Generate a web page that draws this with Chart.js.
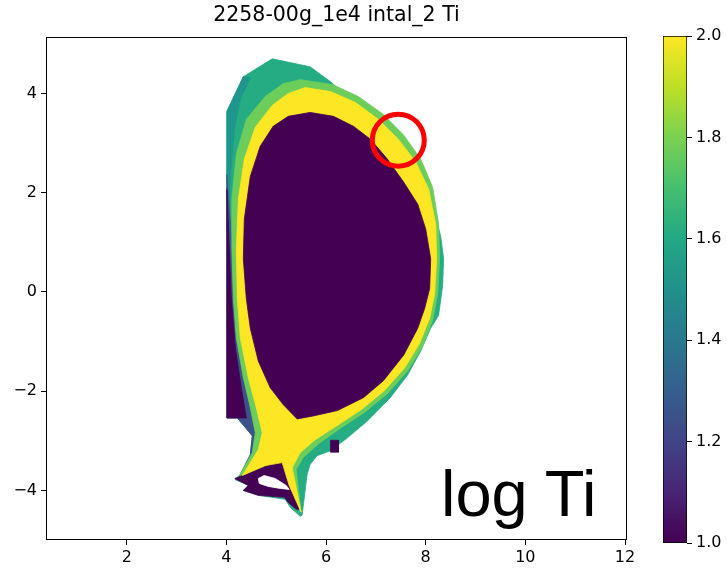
<!DOCTYPE html>
<html>
<head>
<meta charset="utf-8">
<script src="https://cdn.jsdelivr.net/npm/chart.js@4.4.1/dist/chart.umd.min.js"></script>
<style>
  html, body { margin: 0; padding: 0; background: #fff; }
  #wrap { position: relative; width: 727px; height: 571px; overflow: hidden; }
  #main { position: absolute; left: 0; top: 0; }
  #cbar { position: absolute; left: 630px; top: 0; }
  #note { position: absolute; left: 441px; top: 461px; font-family: 'Liberation Sans', Arial, sans-serif;
          font-size: 65px; line-height: 1; color: #000; white-space: nowrap; }
</style>
</head>
<body>
<div id="wrap">
  <canvas id="main" width="660" height="571"></canvas>
  <canvas id="cbar" width="97" height="571"></canvas>
  <div id="note">log Ti</div>
</div>
<script>
const titleText = '2258-00g_1e4 intal_2 Ti';
const xTicks = [2, 4, 6, 8, 10, 12];
const yTicks = [-4, -2, 0, 2, 4];
const xRange = [0.38, 12.04];
const yRange = [-5.0, 5.14];
const cbTicks = [1.0, 1.2, 1.4, 1.6, 1.8, 2.0];
const cbRange = [1.0, 2.0];

// viridis colormap stops (0 .. 1)
const viridis = ['#440154', '#482475', '#414487', '#355f8d', '#2a788e', '#21918c',
                 '#22a884', '#44bf70', '#7ad151', '#bddf26', '#fde725'];

// region outlines (R, Z)
const outerPts = [[4.92, 4.70], [5.68, 4.54], [6.09, 4.24], [6.49, 3.88], [7.09, 3.34], [7.64, 2.82],
  [7.96, 2.33], [8.10, 1.87], [8.30, 1.13], [8.36, 0.67], [8.34, 0.13], [8.26, -0.47], [8.10, -0.73],
  [7.90, -1.19], [7.64, -1.67], [7.29, -2.13], [6.83, -2.60], [6.43, -2.94], [6.09, -3.20], [5.82, -3.30],
  [5.68, -3.48], [5.62, -3.68], [5.52, -4.50], [5.48, -4.52], [5.28, -4.34], [5.18, -4.18], [4.64, -4.10],
  [4.34, -4.00], [4.44, -3.90], [4.17, -3.78], [4.28, -3.68], [4.48, -3.28], [4.52, -2.90], [4.22, -2.54],
  [4.01, -2.54], [4.01, 3.64], [4.34, 4.34]];

const edgePts = [[4.34, 4.34], [4.48, 4.32], [4.28, 3.88], [4.16, 3.28], [4.09, 2.47], [4.05, 1.27],
  [4.01, 1.27], [4.01, 3.64]];

const bluePts = [[4.01, 2.37], [4.09, 1.27], [4.16, -0.13], [4.26, -1.13], [4.42, -1.93], [4.60, -2.64],
  [4.68, -3.14], [4.48, -3.54], [4.28, -3.68], [4.48, -3.28], [4.52, -2.90], [4.22, -2.54], [4.01, -2.54]];

const stripPts = [[4.01, 2.07], [4.05, 1.07], [4.10, -0.13], [4.18, -1.13], [4.30, -1.93], [4.40, -2.54],
  [4.01, -2.54]];

const greenPts = [[5.48, 4.28], [6.13, 4.18], [6.65, 3.94], [7.15, 3.58], [7.56, 3.16], [7.90, 2.68],
  [8.14, 2.11], [8.26, 1.37], [8.28, 0.67], [8.24, -0.03], [8.14, -0.57], [7.94, -1.09], [7.64, -1.59],
  [7.23, -2.05], [6.77, -2.43], [6.27, -2.76], [5.85, -3.06], [5.54, -3.34], [5.40, -3.58], [5.50, -4.44],
  [5.22, -3.94], [5.08, -3.54], [4.72, -3.62], [4.24, -3.74], [4.52, -3.24], [4.58, -2.84], [4.48, -2.33],
  [4.34, -1.73], [4.20, -0.93], [4.14, -0.13], [4.11, 0.87], [4.11, 1.87], [4.20, 2.78], [4.40, 3.48],
  [4.78, 3.94], [5.14, 4.20]];

const divertorPts = [[4.17, -3.76], [5.12, -3.38], [5.34, -3.94], [5.46, -4.38], [5.40, -4.38],
  [5.24, -4.24], [5.16, -4.14], [4.64, -4.10], [4.34, -4.00], [4.44, -3.90]];

const yellowPts = [[5.58, 4.12], [6.09, 4.04], [6.59, 3.82], [7.05, 3.48], [7.45, 3.08], [7.80, 2.62],
  [8.06, 2.07], [8.20, 1.37], [8.22, 0.67], [8.18, -0.03], [8.08, -0.53], [7.88, -1.03], [7.58, -1.53],
  [7.17, -1.99], [6.71, -2.37], [6.21, -2.70], [5.78, -2.98], [5.48, -3.24], [5.32, -3.54], [5.42, -4.04],
  [5.50, -4.44], [5.26, -3.90], [5.12, -3.44], [4.78, -3.50], [4.32, -3.70], [4.64, -3.18], [4.72, -2.84],
  [4.60, -2.33], [4.44, -1.73], [4.28, -0.93], [4.22, -0.13], [4.20, 0.87], [4.24, 1.87], [4.36, 2.68],
  [4.58, 3.32], [4.92, 3.76], [5.24, 4.00]];

const corePts = [[5.68, 3.62], [6.15, 3.54], [6.55, 3.34], [6.89, 3.08], [7.23, 2.68], [7.56, 2.21],
  [7.84, 1.77], [8.00, 1.27], [8.10, 0.67], [8.08, 0.07], [7.98, -0.33], [7.84, -0.73], [7.56, -1.27],
  [7.15, -1.79], [6.75, -2.13], [6.23, -2.39], [5.74, -2.50], [5.42, -2.56], [5.14, -2.27], [4.88, -1.93],
  [4.64, -1.39], [4.48, -0.73], [4.40, -0.13], [4.34, 0.67], [4.36, 1.47], [4.48, 2.33], [4.68, 2.94],
  [4.94, 3.34], [5.24, 3.54]];

const holePts = [[4.64, -3.76], [4.76, -3.70], [4.98, -3.76], [5.20, -3.90], [5.26, -3.98], [5.08, -3.96],
  [4.84, -3.92], [4.66, -3.86]];

const patchPts = [[6.09, -2.99], [6.25, -2.99], [6.25, -3.23], [6.09, -3.23]];

const circlePt = [7.45, 3.06];

// bottom layer first
const layers = [
  { pts: outerPts, color: '#25ac82' },
  { pts: edgePts, color: '#1f968b' },
  { pts: bluePts, color: '#3b528b' },
  { pts: stripPts, color: '#440154' },
  { pts: greenPts, color: '#6ccd5a' },
  { pts: divertorPts, color: '#440154' },
  { pts: yellowPts, color: '#fde725' },
  { pts: corePts, color: '#440154' },
  { pts: holePts, color: '#ffffff' },
  { pts: patchPts, color: '#440154' }
];

const FONT = 'DejaVu Sans';
const minus = v => (v < 0 ? '\u2212' + Math.abs(v) : String(v));

const polygonFill = {
  id: 'polygonFill',
  beforeDatasetDraw(chart, args) {
    const ds = chart.data.datasets[args.index];
    if (!ds.polygon) return;
    const a = chart.chartArea;
    const ctx = chart.ctx;
    ctx.save();
    ctx.beginPath();
    ctx.rect(a.left, a.top, a.width, a.height);
    ctx.clip();
    ctx.beginPath();
    args.meta.data.forEach((p, i) => (i ? ctx.lineTo(p.x, p.y) : ctx.moveTo(p.x, p.y)));
    ctx.closePath();
    ctx.fillStyle = ds.backgroundColor;
    ctx.fill();
    ctx.restore();
  }
};

// axes frame + title centred on the plot area (matplotlib style)
const frame = {
  id: 'frame',
  afterDatasetsDraw(chart) {
    const a = chart.chartArea;
    const ctx = chart.ctx;
    ctx.save();
    ctx.strokeStyle = '#000';
    ctx.lineWidth = 1;
    ctx.strokeRect(Math.round(a.left) + 0.5, Math.round(a.top) + 0.5,
                   Math.round(a.width) - 1, Math.round(a.height) - 1);
    ctx.fillStyle = '#000';
    ctx.font = '20.5px ' + FONT;
    ctx.textAlign = 'center';
    ctx.textBaseline = 'middle';
    ctx.fillText(titleText, (a.left + a.right) / 2, 16);
    ctx.restore();
  }
};

const datasets = layers.map((l, i) => ({
  type: 'line',
  polygon: true,
  data: l.pts.concat([l.pts[0]]).map(p => ({ x: p[0], y: p[1] })),
  backgroundColor: l.color,
  borderColor: l.color,
  borderWidth: 0.8,
  pointRadius: 0,
  fill: false,
  tension: 0,
  order: layers.length - i + 1
}));

datasets.push({
  type: 'scatter',
  data: [{ x: circlePt[0], y: circlePt[1] }],
  pointRadius: 26,
  pointBorderWidth: 5,
  borderColor: '#ff0000',
  backgroundColor: 'rgba(0,0,0,0)',
  order: 0
});

const tickFont = { family: FONT, size: 16 };

new Chart(document.getElementById('main'), {
  type: 'scatter',
  data: { datasets },
  options: {
    responsive: false,
    animation: false,
    events: [],
    layout: { padding: { left: 0, right: 33, top: 37, bottom: 0 } },
    plugins: {
      legend: { display: false },
      tooltip: { enabled: false },
      title: { display: false }
    },
    scales: {
      x: {
        type: 'linear',
        min: xRange[0],
        max: xRange[1],
        afterBuildTicks: axis => { axis.ticks = xTicks.map(value => ({ value })); },
        afterFit: s => { s.height = 28; },
        ticks: { color: '#000', font: tickFont, padding: 3, maxRotation: 0, callback: minus },
        grid: { drawOnChartArea: false, drawTicks: true, tickLength: 5, color: '#000' },
        border: { display: false }
      },
      y: {
        type: 'linear',
        min: yRange[0],
        max: yRange[1],
        afterBuildTicks: axis => { axis.ticks = yTicks.map(value => ({ value })); },
        afterFit: s => { s.width = 46; },
        ticks: { color: '#000', font: tickFont, padding: 4, callback: minus },
        grid: { drawOnChartArea: false, drawTicks: true, tickLength: 5, color: '#000' },
        border: { display: false }
      }
    }
  },
  plugins: [polygonFill, frame]
});

// colour bar
new Chart(document.getElementById('cbar'), {
  type: 'bar',
  data: {
    labels: [''],
    datasets: [{
      data: [cbRange],
      backgroundColor: (c) => {
        const area = c.chart.chartArea;
        if (!area) return viridis[0];
        const g = c.chart.ctx.createLinearGradient(0, area.bottom, 0, area.top);
        viridis.forEach((col, i) => g.addColorStop(i / (viridis.length - 1), col));
        return g;
      },
      borderColor: '#000',
      borderWidth: 1,
      borderSkipped: false,
      barPercentage: 1,
      categoryPercentage: 1
    }]
  },
  options: {
    responsive: false,
    animation: false,
    events: [],
    layout: { padding: { left: 33, right: 0, top: 36, bottom: 28 } },
    plugins: { legend: { display: false }, tooltip: { enabled: false } },
    scales: {
      x: { display: false },
      y: {
        position: 'right',
        min: cbRange[0],
        max: cbRange[1],
        afterBuildTicks: axis => { axis.ticks = cbTicks.map(value => ({ value })); },
        afterFit: s => { s.width = 40; },
        ticks: { color: '#000', font: tickFont, padding: 4, callback: v => v.toFixed(1) },
        grid: { drawOnChartArea: false, drawTicks: true, tickLength: 5, color: '#000' },
        border: { display: false }
      }
    }
  }
});
</script>
</body>
</html>
